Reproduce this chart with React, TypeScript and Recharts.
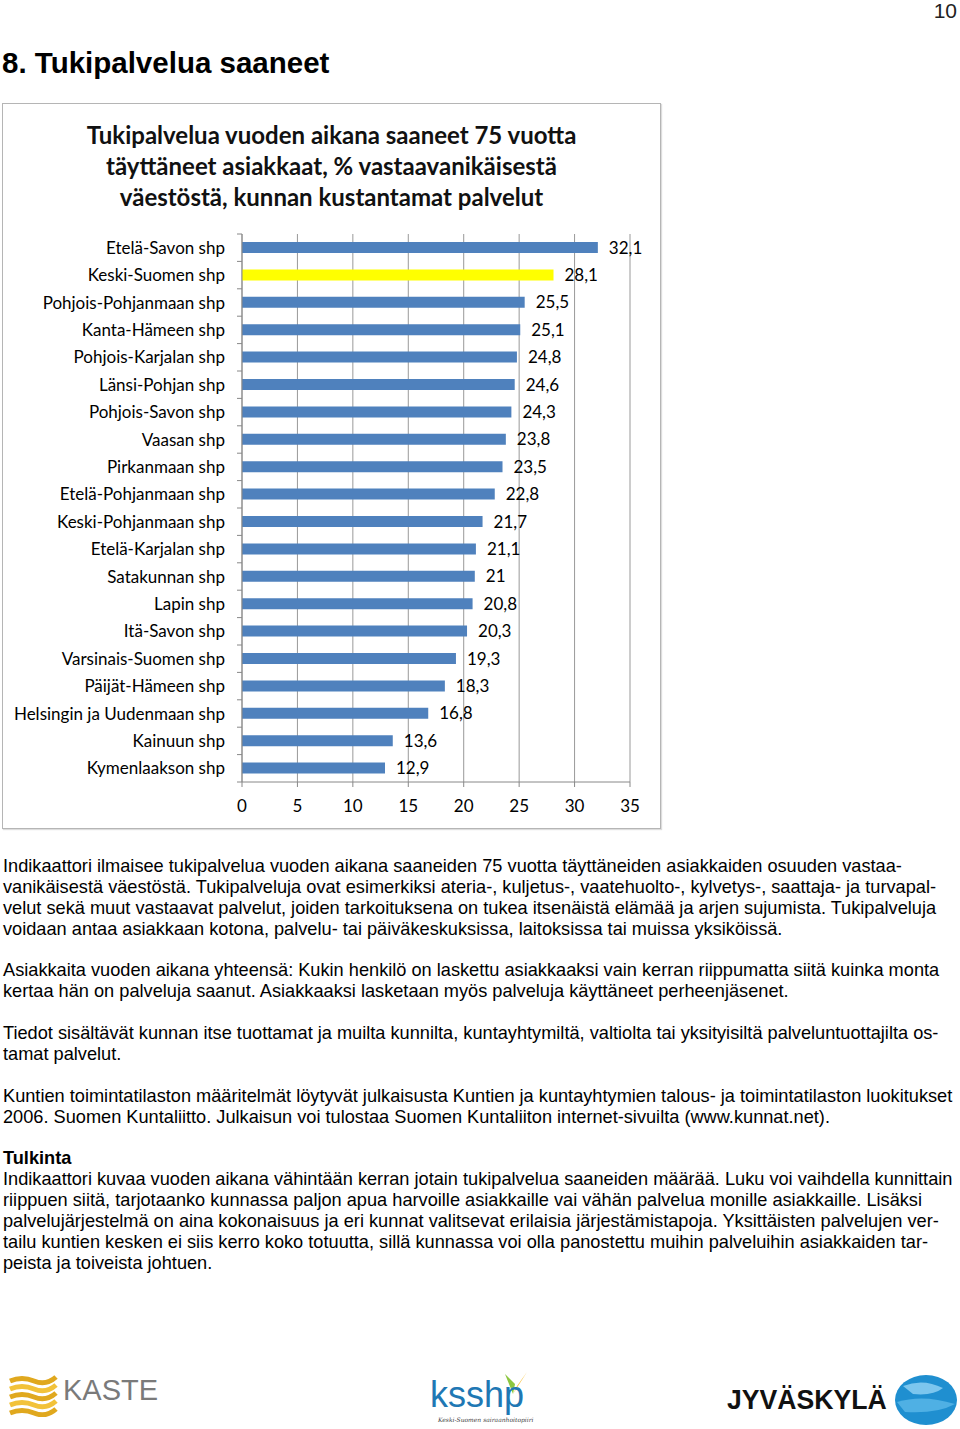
import { Bar, BarChart, CartesianGrid, Cell, LabelList, XAxis, YAxis } from "recharts";

const regions = [
  "Etelä-Savon shp",
  "Keski-Suomen shp",
  "Pohjois-Pohjanmaan shp",
  "Kanta-Hämeen shp",
  "Pohjois-Karjalan shp",
  "Länsi-Pohjan shp",
  "Pohjois-Savon shp",
  "Vaasan shp",
  "Pirkanmaan shp",
  "Etelä-Pohjanmaan shp",
  "Keski-Pohjanmaan shp",
  "Etelä-Karjalan shp",
  "Satakunnan shp",
  "Lapin shp",
  "Itä-Savon shp",
  "Varsinais-Suomen shp",
  "Päijät-Hämeen shp",
  "Helsingin ja Uudenmaan shp",
  "Kainuun shp",
  "Kymenlaakson shp",
];
const shares = [32.1, 28.1, 25.5, 25.1, 24.8, 24.6, 24.3, 23.8, 23.5, 22.8, 21.7, 21.1, 21, 20.8, 20.3, 19.3, 18.3, 16.8, 13.6, 12.9];
const highlighted = "Keski-Suomen shp";
const xTicks = [0, 5, 10, 15, 20, 25, 30, 35];

const data = regions.map((region, i) => ({ region, share: shares[i] }));

const chartFont = "Lato, 'Open Sans', sans-serif";
const pageFont = "'Liberation Sans', Arial, sans-serif";

const CHART_W = 657;
const CHART_H = 724;
const X_AXIS_H = 30;
const MARGIN = { top: 130, right: 30, bottom: 16, left: 0 };
const bandH = (CHART_H - MARGIN.top - MARGIN.bottom - X_AXIS_H) / regions.length;

const fmt = (v: number) => String(v).replace(".", ",");

function RegionTick(props: any) {
  const { x, y, payload, index } = props;
  const axisX = x + 17;
  return (
    <g>
      <text x={x} y={y} dy={6} textAnchor="end" fontSize={17} fill="#000" fontFamily={chartFont}>
        {payload.value}
      </text>
      {index === 0 && <line x1={axisX - 5} x2={axisX} y1={y - bandH / 2} y2={y - bandH / 2} stroke="#888" />}
      <line x1={axisX - 5} x2={axisX} y1={y + bandH / 2} y2={y + bandH / 2} stroke="#888" />
    </g>
  );
}

const paragraphs: { lines: string[]; bold?: boolean; top: number }[] = [
  {
    top: 856,
    lines: [
      "Indikaattori ilmaisee tukipalvelua vuoden aikana saaneiden 75 vuotta täyttäneiden asiakkaiden osuuden vastaa-",
      "vanikäisestä väestöstä. Tukipalveluja ovat esimerkiksi ateria-, kuljetus-, vaatehuolto-, kylvetys-, saattaja- ja turvapal-",
      "velut sekä muut vastaavat palvelut, joiden tarkoituksena on tukea itsenäistä elämää ja arjen sujumista. Tukipalveluja",
      "voidaan antaa asiakkaan kotona, palvelu- tai päiväkeskuksissa, laitoksissa tai muissa yksiköissä.",
    ],
  },
  {
    top: 960,
    lines: [
      "Asiakkaita vuoden aikana yhteensä: Kukin henkilö on laskettu asiakkaaksi vain kerran riippumatta siitä kuinka monta",
      "kertaa hän on palveluja saanut. Asiakkaaksi lasketaan myös palveluja käyttäneet perheenjäsenet.",
    ],
  },
  {
    top: 1023,
    lines: [
      "Tiedot sisältävät kunnan itse tuottamat ja muilta kunnilta, kuntayhtymiltä, valtiolta tai yksityisiltä palveluntuottajilta os-",
      "tamat palvelut.",
    ],
  },
  {
    top: 1086,
    lines: [
      "Kuntien toimintatilaston määritelmät löytyvät julkaisusta Kuntien ja kuntayhtymien talous- ja toimintatilaston luokitukset",
      "2006. Suomen Kuntaliitto. Julkaisun voi tulostaa Suomen Kuntaliiton internet-sivuilta (www.kunnat.net).",
    ],
  },
  { top: 1148, bold: true, lines: ["Tulkinta"] },
  {
    top: 1169,
    lines: [
      "Indikaattori kuvaa vuoden aikana vähintään kerran jotain tukipalvelua saaneiden määrää. Luku voi vaihdella kunnittain",
      "riippuen siitä, tarjotaanko kunnassa paljon apua harvoille asiakkaille vai vähän palvelua monille asiakkaille. Lisäksi",
      "palvelujärjestelmä on aina kokonaisuus ja eri kunnat valitsevat erilaisia järjestämistapoja. Yksittäisten palvelujen ver-",
      "tailu kuntien kesken ei siis kerro koko totuutta, sillä kunnassa voi olla panostettu muihin palveluihin asiakkaiden tar-",
      "peista ja toiveista johtuen.",
    ],
  },
];

function Logos() {
  return (
    <>
      <svg style={{ position: "absolute", left: 8, top: 1375 }} width={50} height={42}>
        {[0, 1, 2, 3, 4].map((i) => (
          <path
            key={i}
            d={`M2 ${6 + i * 8} Q14 ${1 + i * 8} 26 ${6 + i * 8} T48 ${2 + i * 8}`}
            stroke={i % 2 ? "#f2c23a" : "#e0a81e"}
            strokeWidth={5}
            fill="none"
          />
        ))}
      </svg>
      <div style={{ position: "absolute", left: 63, top: 1374, fontFamily: pageFont, fontSize: 29, color: "#7a7a7a" }}>
        KASTE
      </div>
      <svg style={{ position: "absolute", left: 503, top: 1370 }} width={28} height={26}>
        <path d="M10 24 L2 4 L12 14 Z" fill="#8cc63f" />
        <path d="M10 24 L24 2 L14 16 Z" fill="#f6c343" />
      </svg>
      <div style={{ position: "absolute", left: 430, top: 1374, fontFamily: pageFont, fontSize: 36, color: "#1f78b4" }}>ksshp</div>
      <div style={{ position: "absolute", left: 438, top: 1416, fontFamily: "'DejaVu Serif', serif", fontSize: 6, fontStyle: "italic", color: "#444" }}>
        Keski-Suomen sairaanhoitopiiri
      </div>
      <div
        style={{
          position: "absolute",
          left: 727,
          top: 1384,
          fontFamily: pageFont,
          fontWeight: 700,
          fontSize: 28,
          color: "#111",
          transform: "scaleX(0.95)",
          transformOrigin: "left",
        }}
      >
        JYVÄSKYLÄ
      </div>
      <svg style={{ position: "absolute", left: 893, top: 1374 }} width={66} height={52}>
        <ellipse cx={33} cy={26} rx={31} ry={25} fill="#1f8fd0" />
        <path d="M10 12 Q30 4 50 14 Q40 22 20 20 Z" fill="#7cc6ee" />
        <path d="M4 28 Q30 20 62 30 Q44 40 12 38 Z" fill="#4fb0e4" />
      </svg>
    </>
  );
}

export default function App() {
  return (
    <div style={{ position: "absolute", left: 0, top: 0, width: 960, height: 1429, background: "#fff", overflow: "hidden" }}>
      <div style={{ position: "absolute", right: 3, top: -1, fontFamily: pageFont, fontSize: 21, fontWeight: 300, color: "#222" }}>10</div>
      <div style={{ position: "absolute", left: 2, top: 46, fontFamily: pageFont, fontSize: 29.5, fontWeight: 700, color: "#000" }}>
        8. Tukipalvelua saaneet
      </div>

      <div
        style={{
          position: "absolute",
          left: 2,
          top: 103,
          width: 657,
          height: 724,
          border: "1px solid #b5b5b5",
          boxShadow: "1px 1px 1px #ddd",
        }}
      />
      <div
        style={{
          position: "absolute",
          left: 3,
          top: 119,
          width: 657,
          textAlign: "center",
          fontFamily: chartFont,
          fontWeight: 700,
          fontSize: 24,
          lineHeight: "31px",
          color: "#111",
        }}
      >
        Tukipalvelua vuoden aikana saaneet 75 vuotta
        <br />
        täyttäneet asiakkaat, % vastaavanikäisestä
        <br />
        väestöstä, kunnan kustantamat palvelut
      </div>
      <div style={{ position: "absolute", left: 3, top: 104 }}>
        <BarChart width={CHART_W} height={CHART_H} data={data} layout="vertical" margin={MARGIN} barCategoryGap={0}>
          <CartesianGrid horizontal={false} stroke="#999" />
          <XAxis
            type="number"
            domain={[0, 35]}
            ticks={xTicks}
            interval={0}
            height={X_AXIS_H}
            stroke="#888"
            tickSize={5}
            tickMargin={13}
            tick={{ fill: "#000", fontSize: 17, fontFamily: chartFont }}
          />
          <YAxis
            type="category"
            dataKey="region"
            width={239}
            stroke="#888"
            tickLine={false}
            tickSize={6}
            tickMargin={11}
            interval={0}
            tick={<RegionTick />}
          />
          <Bar dataKey="share" barSize={11} isAnimationActive={false}>
            {data.map((d) => (
              <Cell key={d.region} fill={d.region === highlighted ? "#ffff00" : "#4f81bd"} />
            ))}
            <LabelList
              dataKey="share"
              position="right"
              offset={11}
              formatter={(v: any) => fmt(v)}
              style={{ fill: "#000", fontSize: 17, fontFamily: chartFont }}
            />
          </Bar>
        </BarChart>
      </div>

      {paragraphs.map((p, i) => (
        <div
          key={i}
          style={{
            position: "absolute",
            left: 3,
            top: p.top,
            fontFamily: pageFont,
            fontSize: 18.2,
            fontWeight: p.bold ? 700 : 400,
            lineHeight: "20.9px",
            color: "#000",
            whiteSpace: "nowrap",
          }}
        >
          {p.lines.map((l) => (
            <div key={l}>{l}</div>
          ))}
        </div>
      ))}

      <Logos />
    </div>
  );
}
